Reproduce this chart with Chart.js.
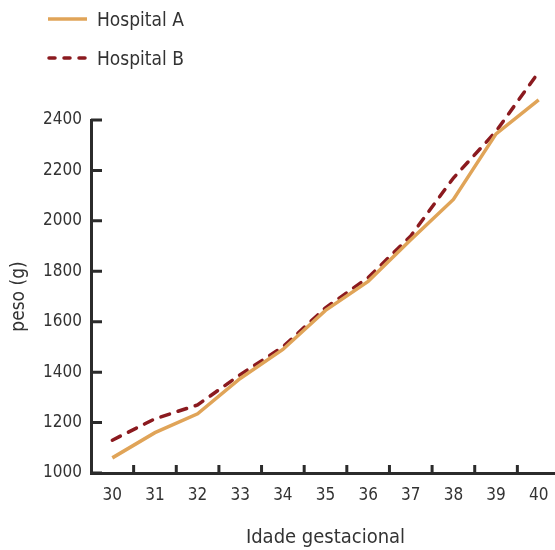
<!DOCTYPE html>
<html>
<head>
<meta charset="utf-8">
<script src="https://cdn.jsdelivr.net/npm/chart.js@4"></script>
<style>
  html, body { margin: 0; padding: 0; background: #fff; overflow: hidden; }
  #wrap { position: relative; width: 555px; height: 550px; overflow: hidden; }
  #chart { position: absolute; left: 0; top: 0; }
  .legend { position: absolute; left: 47px; font-family: 'Liberation Sans Narrow', 'DejaVu Sans Condensed', sans-serif;
            font-size: 19px; color: #333; display: flex; align-items: center; }
  .legend svg { margin-right: 9px; }
</style>
</head>
<body>
<div id="wrap">
  <canvas id="chart" width="562" height="550"></canvas>
  <div class="legend" style="top:8px">
    <svg width="41" height="6"><line x1="1" y1="3" x2="40" y2="3" stroke="#E0A458" stroke-width="3.5"/></svg>Hospital A
  </div>
  <div class="legend" style="top:47px">
    <svg width="41" height="6"><line x1="2" y1="3" x2="40" y2="3" stroke="#8B1A1F" stroke-width="3.5"
      stroke-linecap="round" stroke-dasharray="6 9"/></svg>Hospital B
  </div>
</div>
<script>
const weeks = ['30','31','32','33','34','35','36','37','38','39','40']
const hospitalA = [1060, 1160, 1235, 1375, 1490, 1645, 1760, 1925, 2085, 2345, 2480]
const hospitalB = [1130, 1215, 1270, 1390, 1500, 1655, 1775, 1940, 2170, 2355, 2590]
const yTicks = [1000, 1200, 1400, 1600, 1800, 2000, 2200, 2400]

const fontFamily = "'Liberation Sans Narrow', 'DejaVu Sans Condensed', sans-serif"
const axisColor = '#2b2b2b'
const textColor = '#333'

// ticks that point into the plot instead of out of it
const inwardTicks = {
    id: 'inwardTicks',
    afterDraw(chart) {
        const ctx = chart.ctx
        const x = chart.scales.x
        const y = chart.scales.y
        const area = chart.chartArea
        ctx.save()
        ctx.strokeStyle = axisColor
        ctx.lineWidth = 3
        ctx.beginPath()
        yTicks.forEach(v => {
            const py = y.getPixelForValue(v)
            ctx.moveTo(area.left, py)
            ctx.lineTo(area.left + 11, py)
        })
        for (let i = 0; i < weeks.length - 1; i++) {
            const px = x.getPixelForValue(i + 0.5)
            ctx.moveTo(px, area.bottom)
            ctx.lineTo(px, area.bottom - 8)
        }
        ctx.stroke()
        ctx.restore()
    }
}

new Chart(document.getElementById('chart').getContext('2d'), {
    type: 'line',
    data: {
        labels: weeks,
        datasets: [
            {
                label: 'Hospital A',
                data: hospitalA,
                borderColor: '#E0A458',
                backgroundColor: '#E0A458',
                borderWidth: 3.5,
                pointRadius: 0,
                tension: 0,
                clip: false
            },
            {
                label: 'Hospital B',
                data: hospitalB,
                borderColor: '#8B1A1F',
                backgroundColor: '#8B1A1F',
                borderWidth: 3.5,
                borderDash: [9, 9],
                borderCapStyle: 'round',
                pointRadius: 0,
                tension: 0,
                clip: false
            }
        ]
    },
    options: {
        responsive: false,
        animation: false,
        events: [],
        layout: { padding: { top: 120, right: 2, left: 0, bottom: 0 } },
        plugins: { legend: { display: false }, tooltip: { enabled: false } },
        scales: {
            x: {
                offset: true,
                grid: { display: true, drawOnChartArea: false, drawTicks: false },
                border: { display: true, color: axisColor, width: 3 },
                ticks: { color: textColor, font: { family: fontFamily, size: 17 }, padding: 12 },
                title: { display: true, text: 'Idade gestacional', color: textColor,
                         font: { family: fontFamily, size: 20 }, padding: { top: 0, bottom: 0 } },
                afterFit: s => { s.height = 77 }
            },
            y: {
                min: 1000,
                max: 2400,
                afterBuildTicks: s => { s.ticks = yTicks.map(v => ({ value: v })) },
                grid: { display: true, drawOnChartArea: false, drawTicks: false },
                border: { display: true, color: axisColor, width: 3 },
                ticks: { color: textColor, font: { family: fontFamily, size: 17 }, padding: 9,
                         callback: v => String(v) },
                title: { display: true, text: 'peso (g)', color: textColor,
                         font: { family: fontFamily, size: 19 }, padding: { top: 8, bottom: 0 } },
                afterFit: s => { s.width = 91 }
            }
        }
    },
    plugins: [inwardTicks]
})
</script>
</body>
</html>
